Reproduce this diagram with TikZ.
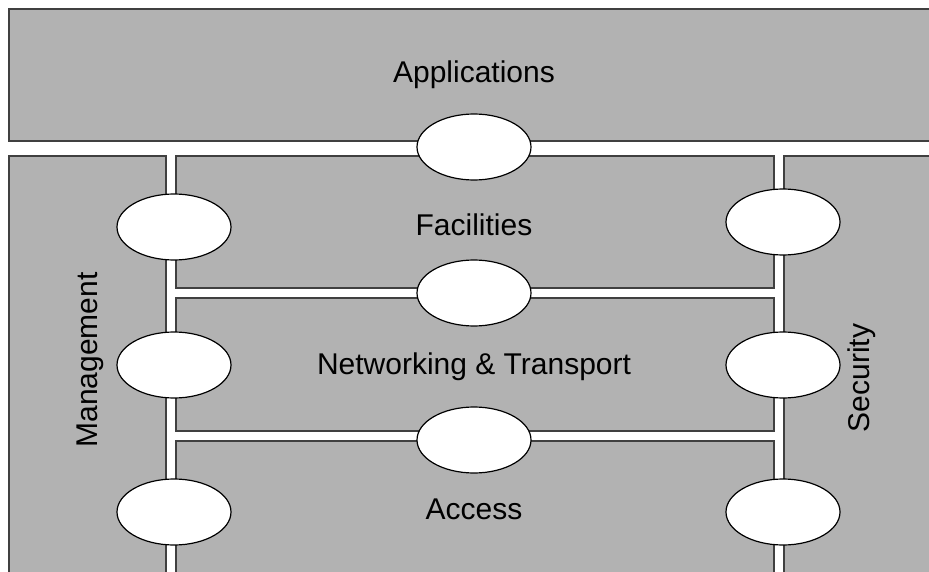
\documentclass[tikz,border=0pt]{standalone}
\usepackage{fontspec}
\setmainfont{Liberation Sans}
\usetikzlibrary{shapes.geometric}

\tikzset{
  layer/.style={draw=black!75, line width=1.2pt, fill=black!30},
  sap/.style={ellipse, draw=black, line width=1.2pt, fill=white, minimum width=114pt, minimum height=66pt, inner sep=0pt},
  lbl/.style={font=\fontsize{30}{36}\selectfont}
}

\begin{document}
\begin{tikzpicture}[x=1pt, y=-1pt]
\useasboundingbox (0,0) rectangle (929,572);
\clip (0,0) rectangle (929,572);
% layers
\draw [layer] (9,9) rectangle (945,141); \node [lbl] (app) at (474,75) {Applications};
\draw [layer] (9,156) rectangle (166,590); \node [lbl, rotate=90] (mgmt) at (90,360) {Management};
\draw [layer] (176,156) rectangle (774,288); \node [lbl] (fac) at (474,225) {Facilities};
\draw [layer] (176,298) rectangle (774,431); \node [lbl] (net) at (474,367) {Networking \& Transport};
\draw [layer] (176,441) rectangle (774,590); \node [lbl] (acc) at (474,509) {Access};
\draw [layer] (784,156) rectangle (945,590); \node [lbl, rotate=90] (sec) at (862,378) {Security};
% interfaces between the stacked layers
\node [sap] (sapapp) at (474,147) {};
\node [sap] (sapfac) at (474,293) {};
\node [sap] (sapnet) at (474,440) {};
% interfaces to management
\node [sap] (mfac) at (174,227) {};
\node [sap] (mnet) at (174,365) {};
\node [sap] (macc) at (174,512) {};
% interfaces to security
\node [sap] (sfac) at (783,222) {};
\node [sap] (snet) at (783,365) {};
\node [sap] (sacc) at (783,512) {};
\end{tikzpicture}
\end{document}
